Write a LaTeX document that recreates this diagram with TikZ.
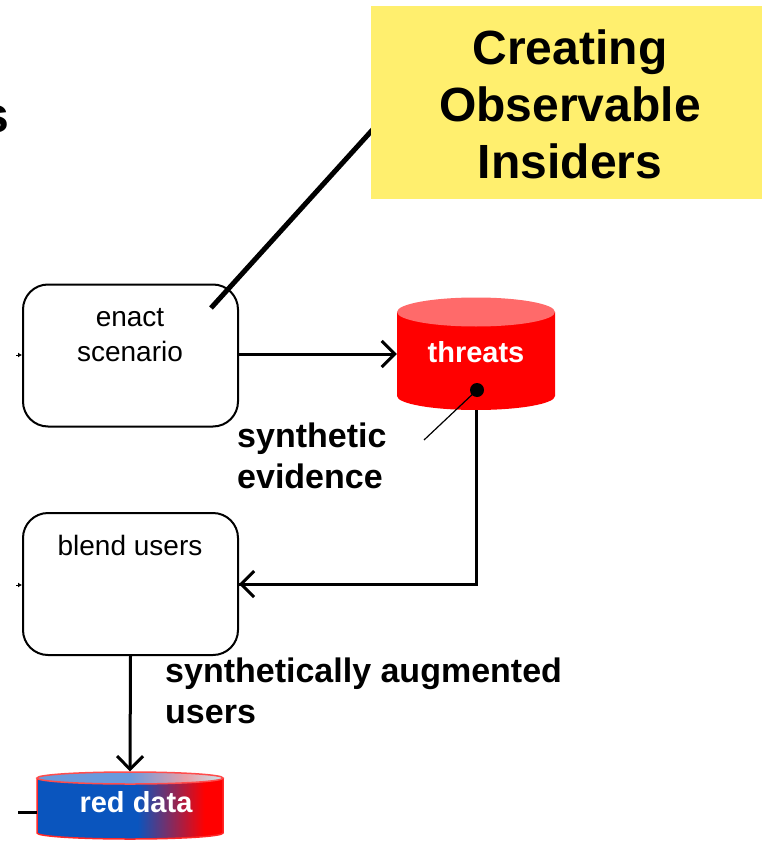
\documentclass[tikz,border=0pt]{standalone}
\usepackage{fontspec}
\setmainfont{Liberation Sans}
\usetikzlibrary{arrows.meta}
\definecolor{noteyellow}{HTML}{FFEF6E}
\definecolor{threatred}{HTML}{FF0000}
\definecolor{threattop}{HTML}{FF6A6A}
\definecolor{rdblue}{HTML}{0A55BE}
\definecolor{rdtopblue}{HTML}{6A9ADC}
\definecolor{rdtoppink}{HTML}{E8A0A8}
\definecolor{rdtopcyan}{HTML}{C8E4EC}
\pgfdeclarehorizontalshading{reddatabody}{100bp}{color(0bp)=(rdblue); color(52bp)=(rdblue); color(70bp)=(threatred); color(100bp)=(threatred)}
\pgfdeclarehorizontalshading{reddatatop}{100bp}{color(0bp)=(rdtopblue); color(50bp)=(rdtopblue); color(65bp)=(rdtoppink); color(75bp)=(rdtopcyan); color(100bp)=(rdtopcyan)}
\begin{document}
\begin{tikzpicture}[x=1pt,y=-1pt,
  procbox/.style={draw=black, line width=2pt, rounded corners=25pt, minimum width=215pt, minimum height=142pt, inner sep=0pt},
  boxtext/.style={align=center, font=\fontsize{28}{35}\selectfont, inner sep=0pt},
  boldtext/.style={align=left, font=\bfseries\fontsize{34}{41}\selectfont, inner sep=0pt},
  cyltext/.style={text=white, font=\bfseries\fontsize{29}{35}\selectfont, inner sep=0pt},
  flow/.style={line width=3pt, -{Straight Barb[length=13pt,width=26pt,line width=3pt]}},
  plainline/.style={line width=3pt},
  tinytip/.style={line width=0.8pt, -{Latex[length=4pt,width=5pt]}}
]
\useasboundingbox (0,0) rectangle (762,842);

% cut-off letter at the top left
\begin{scope}
\clip (0,0) rectangle (762,842);
\node[anchor=base east, inner sep=0pt, font=\bfseries\fontsize{50}{60}\selectfont] (cutletter) at (10,133) {s};
\end{scope}

% callout line (under the note)
\coordinate (calloutend) at (211,308);
\coordinate (calloutstart) at (385,116);
\draw[line width=5pt] (calloutend) -- (calloutstart);

% yellow note
\node[fill=noteyellow, minimum width=391pt, minimum height=193pt, inner sep=0pt] (note) at (566.5,102.5) {};
\node[align=center, inner sep=0pt, font=\bfseries\fontsize{48}{57}\selectfont] (notetext) at (570,104) {Creating\\Observable\\Insiders};

% process boxes
\node[procbox] (enact) at (130.5,355.5) {};
\node[boxtext] (enacttext) at (130,335) {enact\\scenario};
\node[procbox] (blend) at (130.5,584) {};
\node[boxtext, anchor=base] (blendtext) at (130,555) {blend users};

% threats cylinder
\fill[threatred] (397,312) -- (397,396) arc[start angle=180, end angle=360, x radius=79pt, y radius=14pt] -- (555,312) -- cycle;
\fill[threattop] (476,312) ellipse[x radius=79pt, y radius=14.5pt];
\node[minimum width=158pt, minimum height=112pt, inner sep=0pt] (threats) at (476,354) {};
\node[cyltext] (threatstext) at (476,352) {threats};

% red data cylinder
\shade[shading=reddatabody] (37,778) -- (37,833) arc[start angle=180, end angle=360, x radius=93pt, y radius=6pt] -- (223,778) -- cycle;
\draw[threatred!85, line width=1.5pt] (37,778) -- (37,833) arc[start angle=180, end angle=360, x radius=93pt, y radius=6pt] -- (223,778);
\shade[shading=reddatatop] (130,778) ellipse[x radius=93pt, y radius=6pt];
\draw[threatred!70, line width=1.5pt] (130,778) ellipse[x radius=93pt, y radius=6pt];
\node[minimum width=186pt, minimum height=67pt, inner sep=0pt] (reddata) at (130,805) {};
\node[cyltext] (reddatatext) at (136,802) {red data};

% connectors
\draw[flow] (enact.east |- threats.west) -- (threats.west);
\draw[plainline] (threats.south) |- (blend.east);
\draw[flow] (476,584) -- (blend.east);
\draw[flow] (blend.south) -- (reddata.north);

% evidence pointer
\node[circle, fill=black, minimum size=14pt, inner sep=0pt] (dot) at (477,390) {};
\coordinate (pointerend) at (424,440);
\draw[line width=1.2pt] (pointerend) -- (dot.center);

% labels
\node[boldtext, anchor=west] (evidence) at (237,455.5) {synthetic\\evidence};
\node[boldtext, anchor=west] (augmented) at (165,691) {synthetically augmented\\users};

% small stubs on the left
\coordinate (enactin) at (16,355);
\draw[tinytip] (enactin) -- (enact.west |- enactin);
\coordinate (blendin) at (16,585);
\draw[tinytip] (blendin) -- (blend.west |- blendin);
\coordinate (reddatain) at (18,812);
\draw[plainline] (reddatain) -- (37,812);
\end{tikzpicture}
\end{document}
